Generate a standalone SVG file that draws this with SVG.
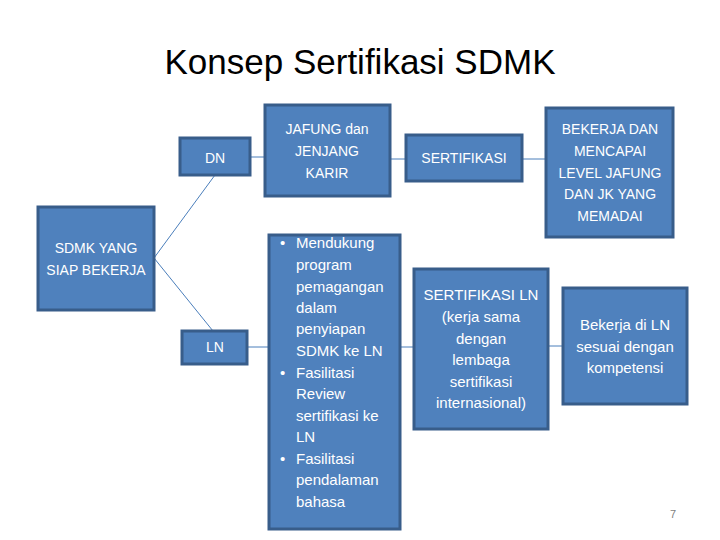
<svg xmlns="http://www.w3.org/2000/svg" width="720" height="540" viewBox="0 0 720 540">
<style>
.box{fill:#4F81BD;stroke:#385D8A;stroke-width:3}
.t{font-family:"Liberation Sans","Noto Sans",sans-serif;fill:#fff;font-size:14px;text-anchor:middle}
.b{font-size:15px}
.bl{font-family:"Liberation Sans","Noto Sans",sans-serif;fill:#fff;font-size:15px}
.c{stroke:#4A7EBB;stroke-width:1;fill:none}
</style>
<rect width="720" height="540" fill="#fff"/>
<text x="360" y="74" font-family="'Liberation Sans','Noto Sans',sans-serif" font-size="35" text-anchor="middle" fill="#000">Konsep Sertifikasi SDMK</text>
<g id="connectors">
<line class="c" x1="154" y1="258" x2="215" y2="175"/>
<line class="c" x1="154" y1="258" x2="213" y2="331"/>
<line class="c" x1="250" y1="157" x2="265" y2="157"/>
<line class="c" x1="390" y1="159" x2="406" y2="159"/>
<line class="c" x1="522" y1="159" x2="546" y2="159"/>
<line class="c" x1="247" y1="347" x2="269" y2="347"/>
<line class="c" x1="400" y1="347" x2="414" y2="347"/>
<line class="c" x1="548" y1="346" x2="563" y2="346"/>
</g>
<g id="sdmk">
<rect class="box" x="38" y="207" width="116" height="103"/>
<text class="t"><tspan x="96" y="253">SDMK YANG</tspan><tspan x="96" y="275">SIAP BEKERJA</tspan></text>
</g>
<g id="dn">
<rect class="box" x="180" y="138" width="70" height="37"/>
<text class="t" x="215" y="163">DN</text>
</g>
<g id="ln">
<rect class="box" x="182" y="331" width="65" height="33"/>
<text class="t" x="215" y="352">LN</text>
</g>
<g id="jafung">
<rect class="box" x="265" y="105" width="125" height="91"/>
<text class="t"><tspan x="327" y="134">JAFUNG dan</tspan><tspan x="327" y="156">JENJANG</tspan><tspan x="327" y="178">KARIR</tspan></text>
</g>
<g id="sertifikasi">
<rect class="box" x="406" y="135" width="116" height="46"/>
<text class="t" x="464" y="163">SERTIFIKASI</text>
</g>
<g id="bekerja">
<rect class="box" x="546" y="108" width="127" height="129"/>
<text class="t"><tspan x="610" y="134">BEKERJA DAN</tspan><tspan x="610" y="156">MENCAPAI</tspan><tspan x="610" y="178">LEVEL JAFUNG</tspan><tspan x="610" y="199">DAN JK YANG</tspan><tspan x="610" y="221">MEMADAI</tspan></text>
</g>
<g id="bullets">
<rect class="box" x="269" y="235" width="131" height="294"/>
<text class="bl">
<tspan x="280" y="248">•</tspan><tspan x="296" y="248">Mendukung</tspan>
<tspan x="296" y="270">program</tspan>
<tspan x="296" y="292">pemagangan</tspan>
<tspan x="296" y="313">dalam</tspan>
<tspan x="296" y="334">penyiapan</tspan>
<tspan x="296" y="356">SDMK ke LN</tspan>
<tspan x="280" y="378">•</tspan><tspan x="296" y="378">Fasilitasi</tspan>
<tspan x="296" y="399">Review</tspan>
<tspan x="296" y="421">sertifikasi ke</tspan>
<tspan x="296" y="442">LN</tspan>
<tspan x="280" y="464">•</tspan><tspan x="296" y="464">Fasilitasi</tspan>
<tspan x="296" y="485">pendalaman</tspan>
<tspan x="296" y="507">bahasa</tspan>
</text>
</g>
<g id="sertifikasi-ln">
<rect class="box" x="414" y="269" width="134" height="160"/>
<text class="t b"><tspan x="481" y="300">SERTIFIKASI LN</tspan><tspan x="481" y="322">(kerja sama</tspan><tspan x="481" y="344">dengan</tspan><tspan x="481" y="365">lembaga</tspan><tspan x="481" y="387">sertifikasi</tspan><tspan x="481" y="408">internasional)</tspan></text>
</g>
<g id="bekerja-ln">
<rect class="box" x="563" y="288" width="124" height="116"/>
<text class="t b"><tspan x="625" y="330">Bekerja di LN</tspan><tspan x="625" y="352">sesuai dengan</tspan><tspan x="625" y="373">kompetensi</tspan></text>
</g>
<text x="673" y="518" font-family="'Liberation Sans',sans-serif" font-size="11" fill="#7f7f7f" text-anchor="middle">7</text>
</svg>
